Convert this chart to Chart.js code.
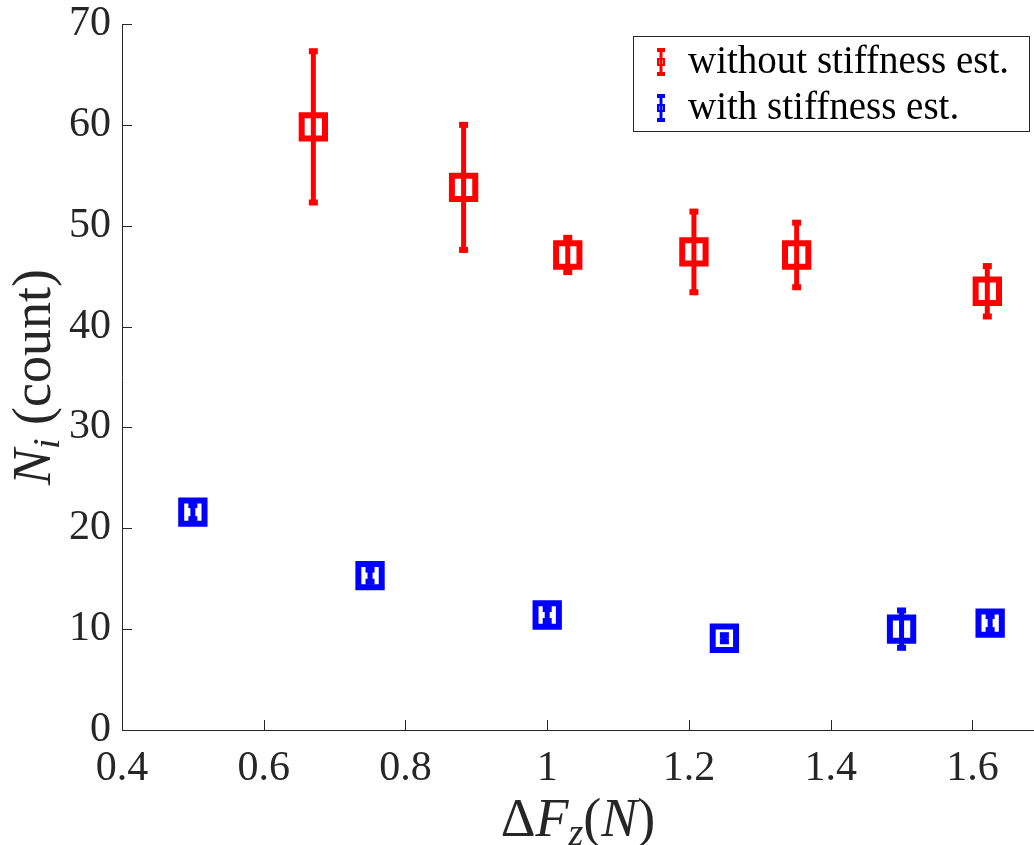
<!DOCTYPE html>
<html>
<head>
<meta charset="utf-8">
<script src="https://cdn.jsdelivr.net/npm/chart.js@4/dist/chart.umd.min.js"></script>
<style>
  html, body { margin: 0; padding: 0; background: #fff; overflow: hidden; }
  #wrap { width: 1034px; height: 845px; overflow: hidden; }
  #chart { display: block; }
</style>
</head>
<body>
<div id="wrap"><canvas id="chart" width="1058" height="845"></canvas></div>
<script>
// data
const redX = [0.670, 0.882, 1.029, 1.207, 1.352, 1.621];
const redY = [59.8, 53.8, 47.1, 47.4, 47.1, 43.5];
const redErr = [7.5, 6.2, 1.7, 4.0, 3.2, 2.5];

const blueX = [0.5, 0.75, 1.0, 1.25, 1.5, 1.625];
const blueY = [21.6, 15.3, 11.4, 9.1, 10.0, 10.6];
const blueErr = [0.7, 0.6, 0.6, 0.3, 1.85, 0.7];

const xTicks = [0.4, 0.6, 0.8, 1.0, 1.2, 1.4, 1.6];
const yTicks = [0, 10, 20, 30, 40, 50, 60, 70];

const seriesNames = ["without stiffness est.", "with stiffness est."];
const seriesColors = ["#ff0000", "#0000ff"];

const SERIF = "Liberation Serif";
const axisColor = "#262626";

function toPoints(xs, ys) {
  return xs.map((x, i) => ({ x: x, y: ys[i] }));
}

// vertical error bars with small square caps
const errorBars = {
  id: "errorBars",
  afterDatasetsDraw(chart) {
    const ctx = chart.ctx;
    const yScale = chart.scales.y;
    chart.data.datasets.forEach((ds, i) => {
      const meta = chart.getDatasetMeta(i);
      ctx.save();
      ctx.strokeStyle = ds.borderColor;
      ctx.fillStyle = ds.borderColor;
      ctx.lineWidth = 5;
      meta.data.forEach((pt, j) => {
        const top = yScale.getPixelForValue(ds.data[j].y + ds.errs[j]);
        const bot = yScale.getPixelForValue(ds.data[j].y - ds.errs[j]);
        ctx.beginPath();
        ctx.moveTo(pt.x, top);
        ctx.lineTo(pt.x, bot);
        ctx.stroke();
        ctx.fillRect(pt.x - 4.5, top - 3, 9, 6);
        ctx.fillRect(pt.x - 4.5, bot - 3, 9, 6);
      });
      ctx.restore();
    });
  }
};

// inward ticks, axis titles and the legend box
const decorations = {
  id: "decorations",
  afterDraw(chart) {
    const ctx = chart.ctx;
    const area = chart.chartArea;
    const xs = chart.scales.x;
    const ys = chart.scales.y;
    const right = Math.min(area.right, 1034);

    ctx.save();
    ctx.strokeStyle = axisColor;
    ctx.lineWidth = 1;
    xTicks.forEach(v => {
      const px = Math.round(xs.getPixelForValue(v)) + 0.5;
      ctx.beginPath();
      ctx.moveTo(px, area.bottom);
      ctx.lineTo(px, area.bottom - 10);
      ctx.stroke();
    });
    yTicks.forEach(v => {
      const py = Math.round(ys.getPixelForValue(v)) + 0.5;
      ctx.beginPath();
      ctx.moveTo(area.left, py);
      ctx.lineTo(area.left + 10, py);
      ctx.stroke();
    });
    ctx.restore();

    // x title: ΔF_z(N)
    ctx.save();
    ctx.fillStyle = axisColor;
    ctx.textBaseline = "alphabetic";
    const big = "54px '" + SERIF + "'";
    const bigIt = "italic 54px '" + SERIF + "'";
    const smallIt = "italic 38px '" + SERIF + "'";
    const xParts = [
      { t: "\u0394", f: big, dy: 0 },
      { t: "F", f: bigIt, dy: 0 },
      { t: "z", f: smallIt, dy: 9 },
      { t: "(", f: big, dy: 0 },
      { t: "N", f: bigIt, dy: 0 },
      { t: ")", f: big, dy: 0 }
    ];
    let w = 0;
    xParts.forEach(p => { ctx.font = p.f; p.w = ctx.measureText(p.t).width; w += p.w; });
    let cx = (area.left + right) / 2 - w / 2;
    const base = 836;
    xParts.forEach(p => {
      ctx.font = p.f;
      ctx.fillText(p.t, cx, base + p.dy);
      cx += p.w;
    });
    ctx.restore();

    // y title: N_i (count)
    ctx.save();
    ctx.fillStyle = axisColor;
    ctx.translate(50, (area.top + area.bottom) / 2);
    ctx.rotate(-Math.PI / 2);
    const yParts = [
      { t: "N", f: bigIt, dy: 0 },
      { t: "i", f: smallIt, dy: 9 },
      { t: " (count)", f: big, dy: 0 }
    ];
    w = 0;
    yParts.forEach(p => { ctx.font = p.f; p.w = ctx.measureText(p.t).width; w += p.w; });
    cx = -w / 2;
    yParts.forEach(p => {
      ctx.font = p.f;
      ctx.fillText(p.t, cx, p.dy);
      cx += p.w;
    });
    ctx.restore();

    // legend
    const lx = right - 401, ly = area.top + 12, lw = 396, lh = 95;
    ctx.save();
    ctx.fillStyle = "#fff";
    ctx.fillRect(lx, ly, lw, lh);
    ctx.strokeStyle = axisColor;
    ctx.lineWidth = 1;
    ctx.strokeRect(lx + 0.5, ly + 0.5, lw, lh);
    seriesNames.forEach((name, i) => {
      const cy = ly + 26 + i * 46;
      const ix = lx + 28;
      const c = seriesColors[i];
      ctx.strokeStyle = c;
      ctx.fillStyle = c;
      ctx.lineWidth = 3;
      ctx.beginPath();
      ctx.moveTo(ix, cy - 12);
      ctx.lineTo(ix, cy + 12);
      ctx.stroke();
      ctx.fillRect(ix - 4, cy - 14, 8, 4);
      ctx.fillRect(ix - 4, cy + 10, 8, 4);
      ctx.lineWidth = 2;
      ctx.strokeRect(ix - 3, cy - 3, 6, 6);
      ctx.fillStyle = "#000";
      ctx.font = "39px '" + SERIF + "'";
      ctx.textBaseline = "middle";
      ctx.fillText(name, lx + 55, cy + 1);
    });
    ctx.restore();
  }
};

const chart = new Chart(document.getElementById("chart"), {
  type: "scatter",
  data: {
    datasets: [
      {
        label: seriesNames[0],
        data: toPoints(redX, redY),
        errs: redErr,
        borderColor: seriesColors[0],
        backgroundColor: "rgba(0,0,0,0)",
        pointStyle: "rect",
        pointRadius: 16.5,
        pointBorderWidth: 6
      },
      {
        label: seriesNames[1],
        data: toPoints(blueX, blueY),
        errs: blueErr,
        borderColor: seriesColors[1],
        backgroundColor: "rgba(0,0,0,0)",
        pointStyle: "rect",
        pointRadius: 16.5,
        pointBorderWidth: 6
      }
    ]
  },
  options: {
    responsive: false,
    devicePixelRatio: 1,
    animation: false,
    events: [],
    layout: { padding: { top: 24, right: 0, left: 0, bottom: 0 } },
    plugins: {
      legend: { display: false },
      tooltip: { enabled: false }
    },
    scales: {
      x: {
        type: "linear",
        min: 0.4,
        max: 1.689,
        afterBuildTicks: s => { s.ticks = xTicks.map(v => ({ value: v })); },
        afterFit: s => {
          s.height = 115;
          s.paddingLeft = 0; s.paddingRight = 0;
          s.paddingTop = 0; s.paddingBottom = 0;
        },
        grid: { display: false, drawTicks: false },
        border: { display: true, color: axisColor, width: 1 },
        ticks: {
          color: axisColor,
          font: { family: SERIF, size: 42 },
          padding: 14,
          maxRotation: 0,
          autoSkip: false,
          callback: v => String(Math.round(v * 10) / 10)
        }
      },
      y: {
        type: "linear",
        min: 0,
        max: 70,
        afterBuildTicks: s => { s.ticks = yTicks.map(v => ({ value: v })); },
        afterFit: s => {
          s.width = 122;
          s.paddingLeft = 0; s.paddingRight = 0;
          s.paddingTop = 0; s.paddingBottom = 0;
        },
        grid: { display: false, drawTicks: false },
        border: { display: true, color: axisColor, width: 1 },
        ticks: {
          color: axisColor,
          font: { family: SERIF, size: 42 },
          padding: 11
        }
      }
    }
  },
  plugins: [errorBars, decorations]
});
</script>
</body>
</html>
